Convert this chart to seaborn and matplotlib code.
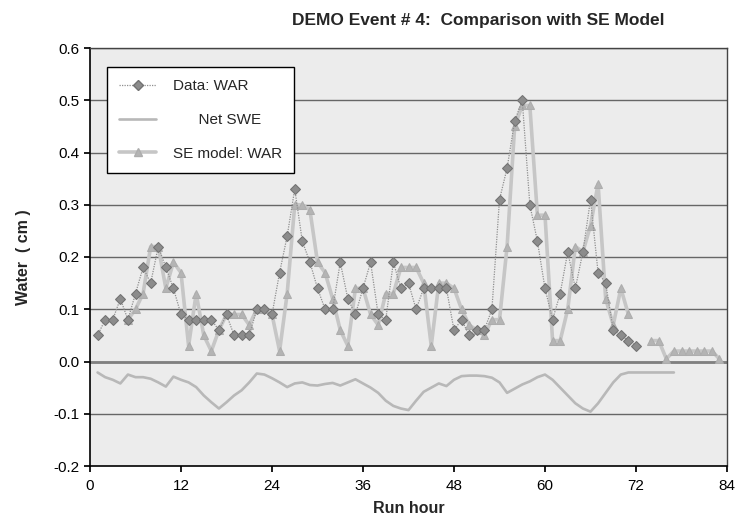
import numpy as np
import pandas as pd
import matplotlib
matplotlib.use("Agg")
import matplotlib.pyplot as plt
import seaborn as sns
from matplotlib.lines import Line2D
from matplotlib.ticker import FormatStrFormatter

# ---------------- data ----------------
hours_data = list(range(1, 73))
data_war = [0.05, 0.08, 0.08, 0.12, 0.08, 0.13, 0.18, 0.15, 0.22, 0.18,
            0.14, 0.09, 0.08, 0.08, 0.08, 0.08, 0.06, 0.09, 0.05, 0.05,
            0.05, 0.10, 0.10, 0.09, 0.17, 0.24, 0.33, 0.23, 0.19, 0.14,
            0.10, 0.10, 0.19, 0.12, 0.09, 0.14, 0.19, 0.09, 0.08, 0.19,
            0.14, 0.15, 0.10, 0.14, 0.14, 0.14, 0.14, 0.06, 0.08, 0.05,
            0.06, 0.06, 0.10, 0.31, 0.37, 0.46, 0.50, 0.30, 0.23, 0.14,
            0.08, 0.13, 0.21, 0.14, 0.21, 0.31, 0.17, 0.15, 0.06, 0.05,
            0.04, 0.03]

hours_se = list(range(5, 84))
se_war = [0.08, 0.10, 0.13, 0.22, 0.22, 0.14, 0.19, 0.17, 0.03, 0.13,
          0.05, 0.02, 0.06, 0.09, 0.09, 0.09, 0.07, 0.10, 0.10, 0.09,
          0.02, 0.13, 0.30, 0.30, 0.29, 0.19, 0.17, 0.12, 0.06, 0.03,
          0.14, 0.14, 0.09, 0.07, 0.13, 0.13, 0.18, 0.18, 0.18, 0.15,
          0.03, 0.15, 0.15, 0.14, 0.10, 0.07, 0.06, 0.05, 0.08, 0.08,
          0.22, 0.45, 0.49, 0.49, 0.28, 0.28, 0.04, 0.04, 0.10, 0.22,
          0.21, 0.26, 0.34, 0.12, 0.07, 0.14, 0.09, np.nan, np.nan, 0.04,
          0.04, 0.005, 0.02, 0.02, 0.02, 0.02, 0.02, 0.02, 0.005]

hours_swe = list(range(1, 78))
net_swe = [-0.021, -0.030, -0.035, -0.042, -0.025, -0.030, -0.030, -0.033, -0.040, -0.048,
           -0.029, -0.035, -0.040, -0.049, -0.065, -0.078, -0.090, -0.078, -0.065, -0.055,
           -0.040, -0.023, -0.025, -0.032, -0.040, -0.049, -0.042, -0.040, -0.045, -0.046,
           -0.043, -0.041, -0.046, -0.040, -0.034, -0.042, -0.050, -0.060, -0.075, -0.085,
           -0.090, -0.093, -0.075, -0.058, -0.050, -0.042, -0.047, -0.035, -0.028, -0.027,
           -0.027, -0.028, -0.031, -0.040, -0.060, -0.052, -0.044, -0.038, -0.030, -0.025,
           -0.035, -0.050, -0.065, -0.080, -0.090, -0.096, -0.080, -0.060, -0.040, -0.025,
           -0.021, -0.021, -0.021, -0.021, -0.021, -0.021, -0.021]

x_ticks = [0, 12, 24, 36, 48, 60, 72, 84]
y_ticks = [-0.2, -0.1, 0.0, 0.1, 0.2, 0.3, 0.4, 0.5, 0.6]

title = "DEMO Event # 4:  Comparison with SE Model"
labels = ["Data: WAR", "Net SWE", "SE model: WAR"]

# ---------------- style ----------------
sns.set_theme(style="white")
plt.rcParams["font.family"] = ["Liberation Sans", "DejaVu Sans"]

fig = plt.figure(figsize=(7.36, 5.29), dpi=100)
ax = fig.add_axes([90 / 736, 1 - 466 / 529, 637 / 736, 418 / 529])
ax.set_facecolor("#ececec")

c_se = "#c6c6c6"
c_swe = "#b8b8b8"

# grid lines
for yv in y_ticks[1:]:
    ax.axhline(yv, color="#666666", lw=1.0, zorder=1)
ax.axhline(0.0, color="#808080", lw=2.0, zorder=1)

se_kw = dict(color=c_se, lw=2.6, marker="^", markersize=5.5,
             markerfacecolor="#b4b4b4", markeredgecolor="#adadad")
data_kw = dict(color="#8f8f8f", lw=0.9, linestyle=(0, (1, 1)), marker="D",
               markersize=5, markerfacecolor="#8c8c8c", markeredgecolor="#727272")

# SE model (split at missing values)
df_se = pd.DataFrame({"hour": hours_se, "war": se_war})
seg = df_se["war"].isna().cumsum()
valid = df_se["war"].notna()
for _, part in df_se[valid].groupby(seg[valid]):
    sns.lineplot(data=part, x="hour", y="war", ax=ax, zorder=3, **se_kw)

# Net SWE
df_swe = pd.DataFrame({"hour": hours_swe, "swe": net_swe})
sns.lineplot(data=df_swe, x="hour", y="swe", ax=ax, color=c_swe, lw=1.9, zorder=3)

# Data WAR
df_d = pd.DataFrame({"hour": hours_data, "war": data_war})
sns.lineplot(data=df_d, x="hour", y="war", ax=ax, zorder=4, **data_kw)

ax.set_xlim(0, 84)
ax.set_ylim(-0.2, 0.6)
ax.set_xticks(x_ticks)
ax.set_yticks(y_ticks)
ax.yaxis.set_major_formatter(FormatStrFormatter("%.1f"))
ax.tick_params(axis="both", labelsize=11, colors="black", length=4, direction="out",
               bottom=True, left=True)
ax.tick_params(axis="x", pad=5)

for side in ["left", "bottom"]:
    ax.spines[side].set_color("black")
    ax.spines[side].set_linewidth(1.2)
for side in ["right", "top"]:
    ax.spines[side].set_color("#444444")
    ax.spines[side].set_linestyle((0, (1, 1)))
    ax.spines[side].set_linewidth(1.0)

ax.set_xlabel("Run hour", fontsize=11.5, fontweight="bold", labelpad=6)
ax.set_ylabel("Water  ( cm )", fontsize=11.5, fontweight="bold", labelpad=16)

fig.text(478 / 736, 1 - 20 / 529, title, fontsize=12.5, fontweight="bold",
         ha="center", va="center")

handles = [
    Line2D([], [], **data_kw),
    Line2D([], [], color=c_swe, lw=1.9),
    Line2D([], [], **se_kw),
]
leg_labels = [labels[0], "      " + labels[1], labels[2]]
leg = ax.legend(handles, leg_labels, loc="upper left", bbox_to_anchor=(0.027, 0.955),
                frameon=True, fancybox=False, framealpha=1, edgecolor="black",
                fontsize=11, labelspacing=1.3, handlelength=2.4, handletextpad=1.1,
                borderpad=0.8, borderaxespad=0)
leg.get_frame().set_linewidth(1.0)
leg.set_zorder(10)

fig.savefig("out.png", dpi=100)
